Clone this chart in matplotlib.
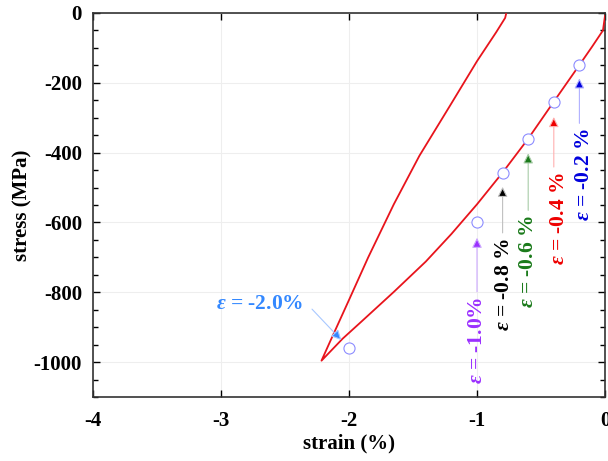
import matplotlib
matplotlib.use("Agg")
import matplotlib.pyplot as plt
from matplotlib.ticker import MultipleLocator

plt.rcParams["font.family"] = ["Liberation Serif", "DejaVu Serif"]
plt.rcParams["font.weight"] = "bold"
plt.rcParams["axes.unicode_minus"] = False
plt.rcParams["mathtext.fontset"] = "custom"
plt.rcParams["mathtext.rm"] = "Liberation Serif:bold"
plt.rcParams["mathtext.it"] = "Liberation Serif:italic:bold"

# hysteresis loop
loading_strain = [0.0, -0.016, -0.1, -0.2, -0.4, -0.6, -0.8, -1.0, -1.2, -1.4, -1.65, -1.9, -2.05, -2.215]
loading_stress = [-8, -50, -96, -149, -254, -360, -457, -548, -633, -712, -799, -883, -933, -996]
unloading_strain = [-2.215, -2.15, -2.0, -1.85, -1.65, -1.45, -1.21, -1.0, -0.85, -0.78, -0.773]
unloading_stress = [-996, -943, -822, -700, -548, -409, -265, -138, -55, -14, -3]

# sampled points
point_strain = [-0.2, -0.4, -0.6, -0.8, -1.0, -2.0]
point_stress = [-150, -255, -362, -458, -598, -960]
point_labels = ["-0.2 %", "-0.4 %", "-0.6 %", "-0.8 %", "-1.0%", "-2.0%"]

# colours (text/head, arrow shaft)
label_colors = ["#0000DD", "#EE0000", "#1A7A1A", "#000000", "#9B30FF", "#3388FF"]
shaft_colors = ["#B0B0FF", "#FFB0B0", "#A8CCA8", "#C0C0C0", "#CCA8FF", "#A8C8FF"]

# vertical labels: (tip below marker, tail below marker, text x shift) in pixels
vert_offsets = [(13, 58, 5), (15, 65, 5), (14, 71, 0), (14, 60, 1), (16, 70, 0)]

PT = 0.72  # points per pixel at dpi 100

fig = plt.figure(figsize=(6.08, 4.61), dpi=100)
ax = fig.add_axes([93 / 608, 1 - 397 / 461, 512 / 608, 384 / 461])

ax.plot(loading_strain + unloading_strain[1:], loading_stress + unloading_stress[1:],
        color="#E8141C", lw=1.3, zorder=3)
ax.plot(point_strain, point_stress, "o", ms=8, mfc="white", mec="#8C8CFF",
        mew=0.8, zorder=4)

for i, (tip, tail, dx) in enumerate(vert_offsets):
    xy = (point_strain[i], point_stress[i])
    ax.annotate("", xy=xy, xytext=(0, -tail), textcoords="offset pixels", zorder=5,
                arrowprops=dict(arrowstyle="-|>", ec=shaft_colors[i],
                                fc=label_colors[i], lw=0.8, mutation_scale=15,
                                shrinkA=0, shrinkB=tip * PT))
    ax.annotate("$\\varepsilon$ = " + point_labels[i], xy=xy,
                xytext=(dx, -tail - 5), textcoords="offset pixels",
                rotation=90, ha="center", va="top", fontsize=15.5,
                color=label_colors[i], zorder=6)

# -2.0 % label with diagonal arrow
xy = (point_strain[5], point_stress[5])
ax.annotate("", xy=xy, xytext=(-37, 39), textcoords="offset pixels", zorder=5,
            arrowprops=dict(arrowstyle="-|>", ec=shaft_colors[5], fc=label_colors[5],
                            lw=0.8, mutation_scale=15, shrinkA=0, shrinkB=11 * PT))
ax.annotate("$\\varepsilon$ = " + point_labels[5], xy=xy, xytext=(-46, 44),
            textcoords="offset pixels", ha="right", va="center", fontsize=15.5,
            color=label_colors[5], zorder=6)

ax.set_xlim(-4, 0)
ax.set_ylim(-1100, 0)
ax.xaxis.set_major_locator(MultipleLocator(1))
ax.yaxis.set_major_locator(MultipleLocator(200))
ax.yaxis.set_minor_locator(MultipleLocator(50))
ax.tick_params(which="both", direction="in", top=True, right=True, labelsize=15)
ax.tick_params(which="major", length=5, width=1)
ax.tick_params(which="minor", length=3.5, width=1)
ax.tick_params(axis="x", pad=10)
ax.tick_params(axis="y", pad=8)
ax.grid(True, which="major", color="#EEEEEE", lw=0.8)
ax.set_axisbelow(True)
for s in ax.spines.values():
    s.set_linewidth(1.2)
    s.set_color("#333333")

ax.set_xlabel("strain (%)", fontsize=15, fontweight="bold", labelpad=2)
ax.set_ylabel("stress (MPa)", fontsize=15, fontweight="bold", labelpad=0.5)

fig.savefig("out.png", dpi=100)
